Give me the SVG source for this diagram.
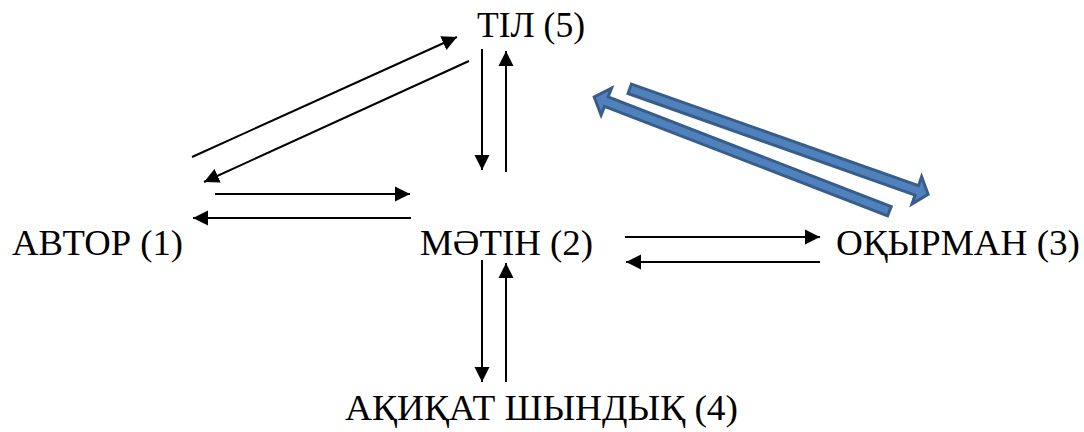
<svg xmlns="http://www.w3.org/2000/svg" width="1084" height="432" viewBox="0 0 1084 432">
  <style>
    .label { font-family: Liberation Serif, Tinos, Times New Roman, Times, serif; font-size: 36px; fill: #000; }
    .link { stroke: #000; stroke-width: 2; fill: none; marker-end: url(#head); }
    .block { fill: #4F81BD; stroke: #385D8A; stroke-width: 3; stroke-linejoin: miter; }
  </style>
  <defs>
    <marker id="head" markerUnits="userSpaceOnUse" markerWidth="16" markerHeight="16" refX="15" refY="7.5" orient="auto" viewBox="0 0 16 15">
      <path d="M0,0 L15,7.5 L0,15 z" fill="#000"/>
    </marker>
  </defs>

  <rect width="1084" height="432" fill="#fff"/>

  <!-- nodes -->
  <g id="til"><text class="label" font-family="Liberation Serif" x="477" y="37" textLength="108" lengthAdjust="spacingAndGlyphs">ТІЛ (5)</text></g>
  <g id="avtor"><text class="label" font-family="Liberation Serif" x="12" y="255" textLength="171" lengthAdjust="spacingAndGlyphs">АВТОР (1)</text></g>
  <g id="matin"><text class="label" font-family="Liberation Serif" x="420" y="255" textLength="173" lengthAdjust="spacingAndGlyphs">МӘТІН (2)</text></g>
  <g id="oqyrman"><text class="label" font-family="Liberation Serif" x="836" y="255" textLength="244" lengthAdjust="spacingAndGlyphs">ОҚЫРМАН (3)</text></g>
  <g id="aqiqat"><text class="label" font-family="Liberation Serif" x="345" y="420" textLength="393" lengthAdjust="spacingAndGlyphs">АҚИҚАТ ШЫНДЫҚ (4)</text></g>

  <!-- connectors -->
  <g id="connectors">
    <!-- author <-> language -->
    <line class="link" x1="192" y1="157" x2="457" y2="37"/>
    <line class="link" x1="469" y1="61" x2="204" y2="182"/>
    <!-- author <-> text -->
    <line class="link" x1="215" y1="194" x2="410" y2="194"/>
    <line class="link" x1="411" y1="218" x2="193" y2="218"/>
    <!-- language <-> text -->
    <line class="link" x1="482" y1="49" x2="482" y2="170"/>
    <line class="link" x1="506" y1="172" x2="506" y2="51"/>
    <!-- text <-> reader -->
    <line class="link" x1="625" y1="237" x2="820" y2="237"/>
    <line class="link" x1="820" y1="262" x2="626" y2="262"/>
    <!-- text <-> reality -->
    <line class="link" x1="482" y1="260" x2="482" y2="382"/>
    <line class="link" x1="506" y1="382" x2="506" y2="263"/>

    <!-- language <-> reader (block arrows) -->
    <g transform="translate(628.3,88.3) rotate(19.48)">
      <polygon class="block" points="1.5,-5 306,-5 306,-14.5 318,0 306,14.5 306,5 1.5,5"/>
    </g>
    <g transform="translate(890.8,211.7) rotate(201.15)">
      <polygon class="block" points="1.5,-5 305,-5 305,-14.5 318,0 305,14.5 305,5 1.5,5"/>
    </g>
  </g>
</svg>
